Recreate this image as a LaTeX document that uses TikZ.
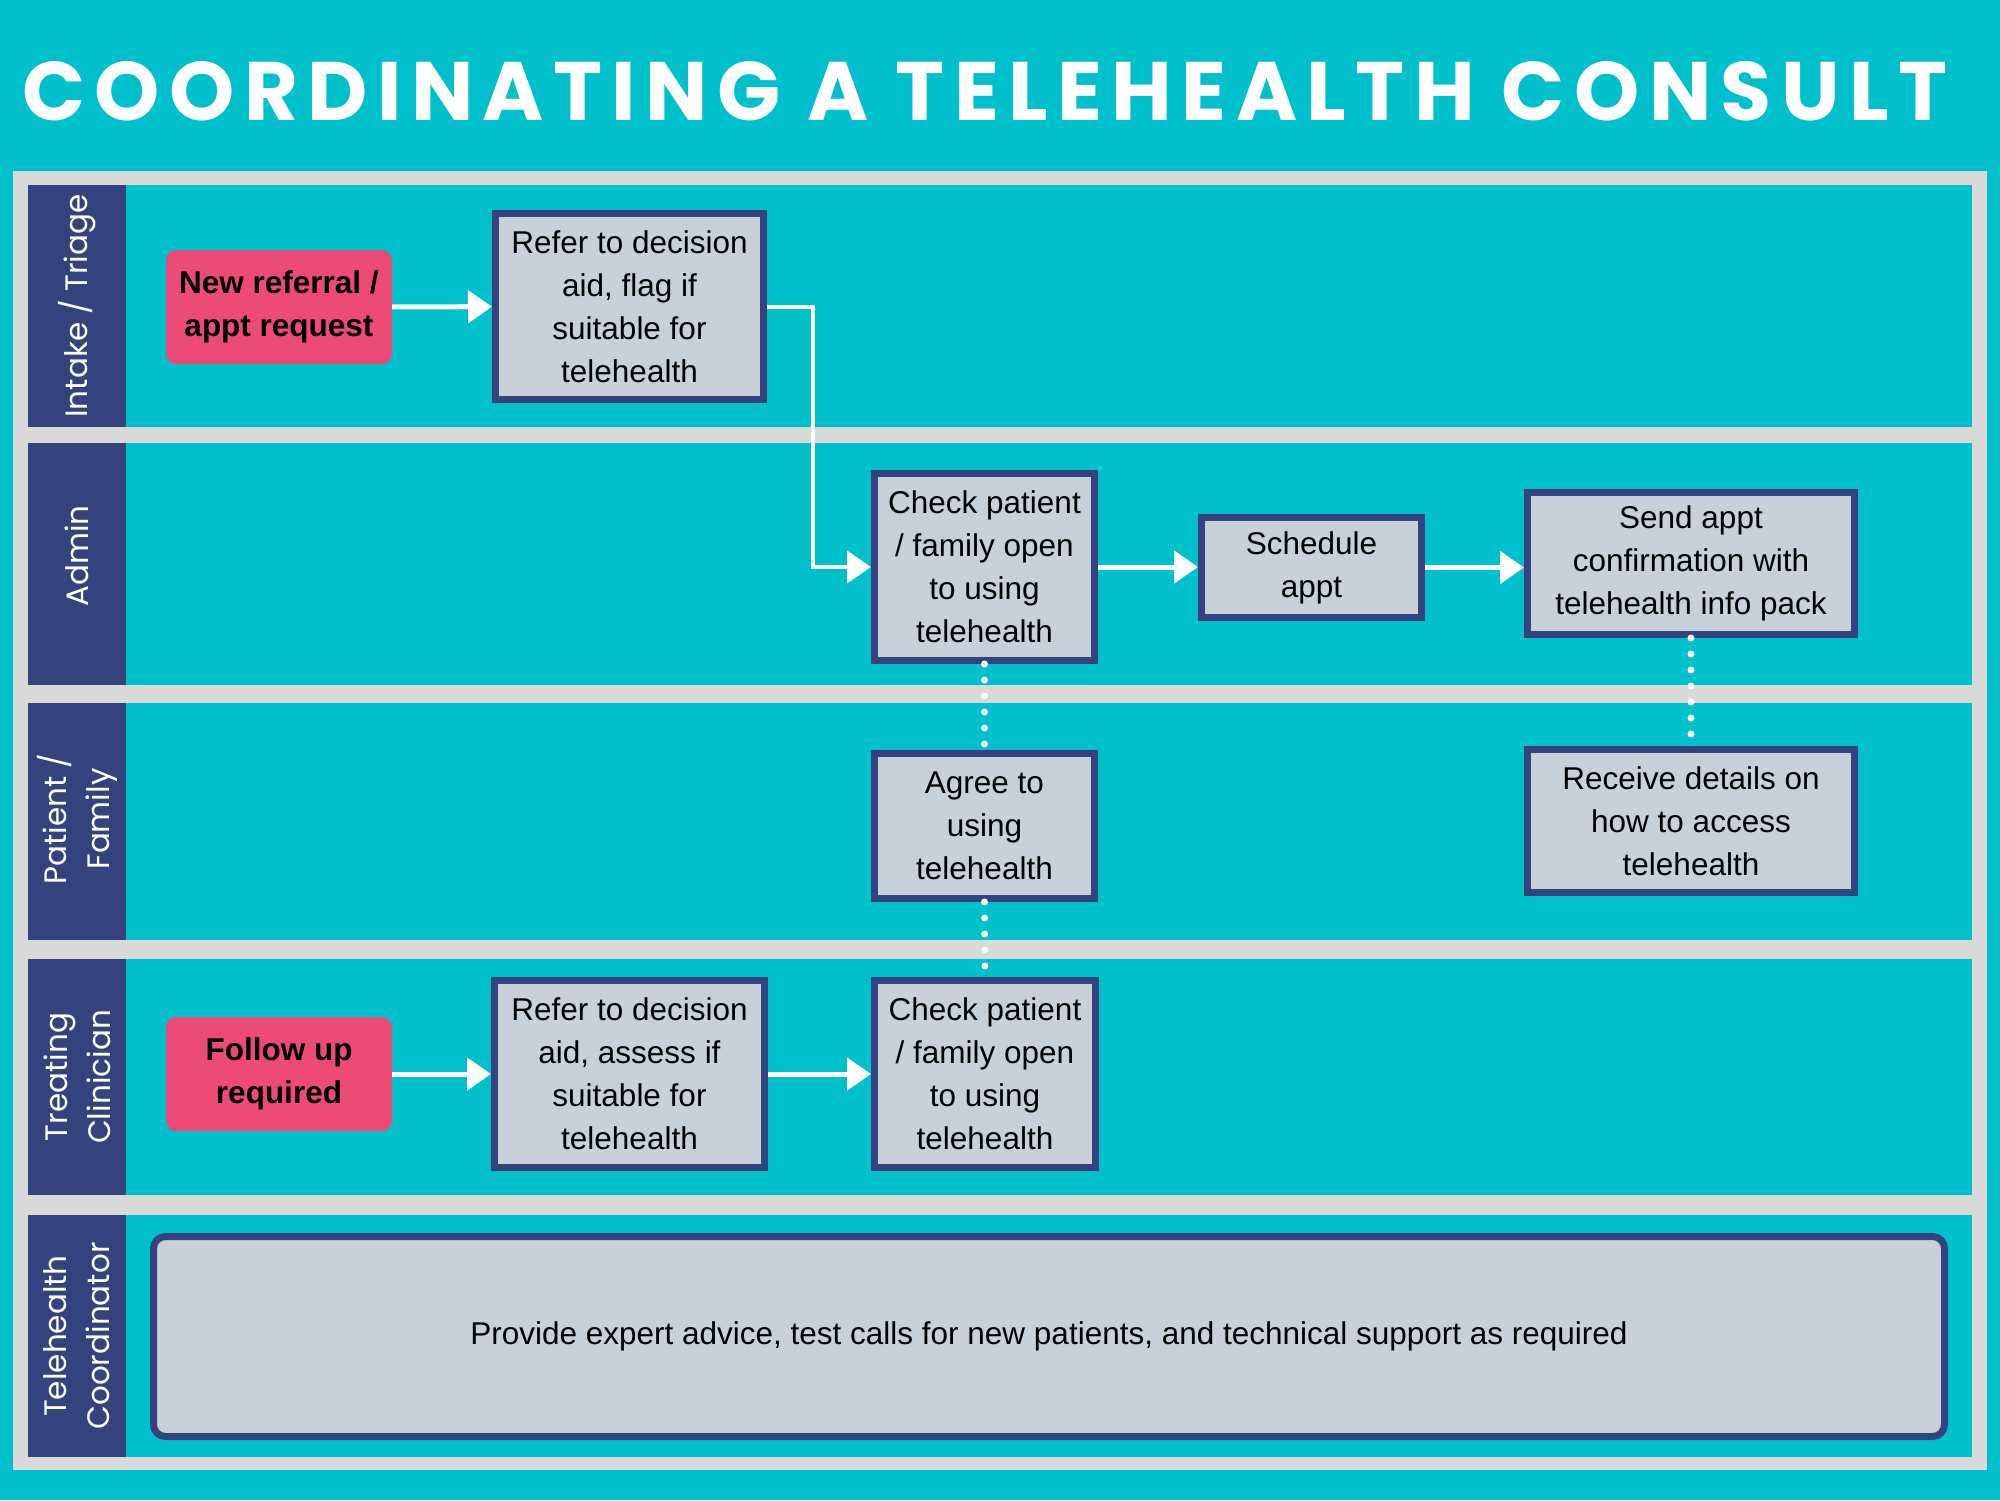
\documentclass[tikz,border=0pt]{standalone}
\usepackage{fontspec}
\setmainfont{Liberation Sans}
\newfontfamily\headfont{Poppins}
\newfontfamily\titlefont{Poppins}[LetterSpace=11.3]
\usetikzlibrary{arrows.meta}
\definecolor{laneteal}{HTML}{00C1CB}
\definecolor{lanegrey}{HTML}{D9D9D9}
\definecolor{navyband}{HTML}{34437D}
\definecolor{taskfill}{HTML}{C8D0DA}
\definecolor{startpink}{HTML}{EC4B78}

\begin{document}
\begin{tikzpicture}[x=1pt, y=-1pt, every node/.style={font=\fontsize{31.5}{43}\selectfont},
	task/.style={draw=navyband, line width=7pt, fill=taskfill, align=center, inner sep=0pt},
	start/.style={fill=startpink, rounded corners=10pt, align=center, inner sep=0pt, minimum width=226pt, minimum height=114pt, font=\fontsize{31.5}{43}\selectfont\bfseries},
	lane/.style={text=white, rotate=90, align=center, font=\headfont\fontsize{31}{43}\selectfont},
	flow/.style={white, line width=5pt, -{Triangle[length=24pt, width=32pt]}},
	link/.style={white, line width=7pt, line cap=round, dash pattern=on 0pt off 16pt}]
	\useasboundingbox (0,0) rectangle (2000,1500);
	\fill[laneteal] (0,0) rectangle (2000,1500);
	\fill[lanegrey] (13,171) rectangle (1987,1470);
	\foreach \ya/\yb in {185/427, 443/685, 703/940, 959/1195, 1215/1457} {
		\fill[laneteal] (126,\ya) rectangle (1972,\yb);
		\fill[navyband] (28,\ya) rectangle (126,\yb);
	}
	\node[anchor=base west, inner sep=0pt, text=white, font=\titlefont\bfseries\fontsize{83}{90}\selectfont] (title) at (22,120) {COORDINATING A TELEHEALTH CONSULT};
	\node[lane] (intake) at (77,306) {Intake / Triage};
	\node[lane] (admin) at (77,556) {Admin};
	\node[lane] (family) at (77,819) {Patient /\\Family};
	\node[lane] (clinician) at (77,1077) {Treating\\Clinician};
	\node[lane] (coordinator) at (77,1336) {Telehealth\\Coordinator};
	\node[start] (newref) at (279,307) {New referral /\\appt request};
	\node[task, minimum width=268pt, minimum height=186pt] (referA) at (629.5,306.5) {Refer to decision\\aid, flag if\\suitable for\\telehealth};
	\node[task, minimum width=220pt, minimum height=187pt] (checkA) at (984.5,567) {Check patient\\/ family open\\to using\\telehealth};
	\node[task, minimum width=220pt, minimum height=100pt] (schedule) at (1311.5,567.5) {Schedule\\appt};
	\node[task, minimum width=327pt, minimum height=142pt] (send) at (1691,563.5) {Send appt\\confirmation with\\telehealth info pack};
	\node[task, minimum width=220pt, minimum height=145pt] (agree) at (984.5,826) {Agree to\\using\\telehealth};
	\node[task, minimum width=327pt, minimum height=143pt] (receive) at (1691,821) {Receive details on\\how to access\\telehealth};
	\node[start] (followup) at (279,1074) {Follow up\\required};
	\node[task, minimum width=270pt, minimum height=187pt] (referB) at (629.5,1074) {Refer to decision\\aid, assess if\\suitable for\\telehealth};
	\node[task, minimum width=221pt, minimum height=187pt] (checkB) at (985,1074) {Check patient\\/ family open\\to using\\telehealth};
	\node[task, rounded corners=12pt, minimum width=1791pt, minimum height=200pt] (support) at (1049,1336.5) {Provide expert advice, test calls for new patients, and technical support as required};
	\draw[flow] (newref) -- (referA);
	\draw[flow, line width=4pt] (referA.east) -- ++(46,0) |- (checkA.west);
	\draw[flow] (checkA.east) -- (checkA.east -| schedule.west);
	\draw[flow] (schedule.east) -- (schedule.east -| send.west);
	\draw[flow] (followup) -- (referB);
	\draw[flow] (referB) -- (checkB);
	\draw[link] (checkA.south) -- (agree.north);
	\draw[link] (agree.south) -- (checkB.north);
	\draw[link] (send.south) -- (receive.north);
\end{tikzpicture}
\end{document}
